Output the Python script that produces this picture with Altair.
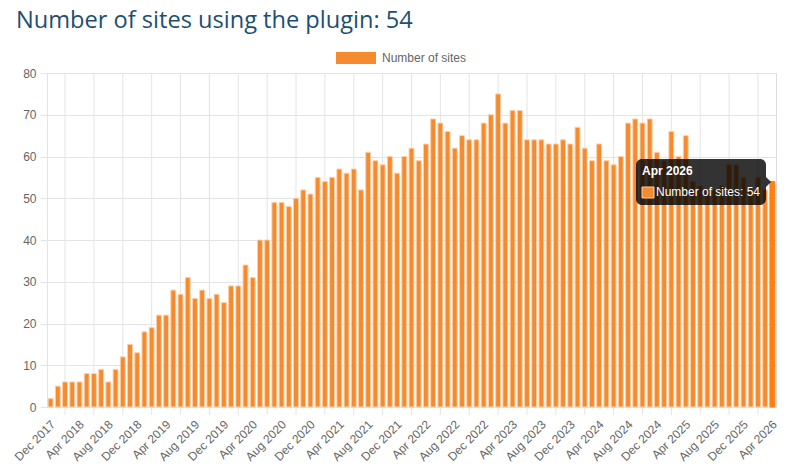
import json

import altair as alt
import pandas as pd

# Monthly labels, Dec 2017 .. Apr 2026
months = [p.strftime("%b %Y") for p in pd.period_range("2017-12", "2026-04", freq="M")]

# Active installs per month
sites = [
    2, 5, 6, 6, 6, 8, 8, 9, 6, 9, 12, 15, 13, 18, 19, 22, 22, 28, 27, 31,
    26, 28, 26, 27, 25, 29, 29, 34, 31, 40, 40,
    49, 49, 48, 50, 52, 51, 55, 54, 55, 57, 56, 57, 52, 61, 59, 58, 60, 56,
    60, 62, 59, 63, 69, 68, 66, 62, 65, 64, 64, 68, 70, 75, 68, 71, 71, 64,
    64, 64, 63, 63, 64, 63, 67, 62, 59, 63, 59, 58, 60, 68, 69, 68, 69, 61,
    59, 66, 60, 65,
    54, 53, 52, 52, 53, 58, 58, 55, 52, 55, 52, 54,
]

series_name = "Number of sites"
y_ticks = list(range(0, 81, 10))

n = len(months)
last = n - 1
label_idx = list(range(0, n, 4))        # labelled months
grid_idx = list(range(2, n - 1, 4))     # grid lines sit between labelled months

PLOT_W, PLOT_H = 729, 334
ORANGE = "#f68a2e"
HOVER = "#ff7f10"
EDGE = "#fbd0a8"
GRID = "#e4e4e4"
FONT = "Liberation Sans"

df = pd.DataFrame({"i": range(n), "month": months, "sites": sites, "series": series_name})

xscale = alt.Scale(domain=[-0.5, n - 0.5], nice=False, zero=False, padding=0)
yscale = alt.Scale(domain=[0, 80], nice=False, padding=0)

x_axis = alt.Axis(
    values=label_idx,
    labelExpr=json.dumps(months) + "[datum.value]",
    labelAngle=-45,
    labelAlign="right",
    labelBaseline="middle",
    labelPadding=15,
    labelOffset=2,
    labelOverlap=False,
    labelColor="#666666",
    labelFont=FONT,
    labelFontSize=12,
    grid=False,
    ticks=False,
    domainColor=GRID,
    title=None,
)

vgrid = alt.Chart(pd.DataFrame({"g": grid_idx})).mark_rule(
    color=GRID, strokeWidth=1
).encode(
    x=alt.X("g:Q", scale=xscale, axis=x_axis),
    y=alt.value(0),
    y2=alt.value(PLOT_H + 8),
)

is_last = alt.datum.i == last

bars = alt.Chart(df).transform_calculate(
    x0="datum.i - 0.34", x1="datum.i + 0.34"
).mark_bar(strokeWidth=1).encode(
    x=alt.X("x0:Q", scale=xscale, axis=x_axis),
    x2="x1:Q",
    y=alt.Y(
        "sites:Q",
        scale=yscale,
        axis=alt.Axis(
            values=y_ticks,
            grid=True,
            gridColor=GRID,
            tickColor=GRID,
            tickSize=7,
            domainColor=GRID,
            labelColor="#666666",
            labelFont=FONT,
            labelFontSize=12,
            labelPadding=4,
            title=None,
        ),
    ),
    y2=alt.datum(0),
    fill=alt.condition(
        is_last,
        alt.value(HOVER),
        alt.Fill(
            "series:N",
            scale=alt.Scale(domain=[series_name], range=[ORANGE]),
            legend=alt.Legend(
                title=None,
                orient="none",
                legendX=289,
                legendY=-35,
                symbolType="M-1,-0.3H1V0.3H-1Z",
                symbolSize=1600,
                symbolStrokeWidth=0,
                symbolOpacity=1,
                labelFont=FONT,
                labelFontSize=12,
                labelColor="#666666",
                labelOffset=6,
            ),
        ),
    ),
    stroke=alt.condition(is_last, alt.value(HOVER), alt.value(EDGE)),
)

# Hover tooltip for the latest month
tip_df = pd.DataFrame({
    "title": [months[last]],
    "body": [f"{series_name}: {sites[last]}"],
})
tip = alt.Chart(tip_df)
tip_box = tip.mark_rect(cornerRadius=6, color="black", opacity=0.8).encode(
    x=alt.value(589), x2=alt.value(719), y=alt.value(86), y2=alt.value(132)
)
tip_caret = tip.mark_point(
    shape="M0,-1L1,0L0,1Z", size=100, filled=True, color="black", opacity=0.8
).encode(x=alt.value(719), y=alt.value(109))
tip_title = tip.mark_text(
    align="left", baseline="alphabetic", font=FONT, fontSize=12,
    fontWeight="bold", color="white"
).encode(x=alt.value(595), y=alt.value(102), text="title:N")
tip_swatch = tip.mark_rect(color=ORANGE, stroke=EDGE, strokeWidth=1).encode(
    x=alt.value(595), x2=alt.value(607), y=alt.value(114), y2=alt.value(125)
)
tip_body = tip.mark_text(
    align="left", baseline="alphabetic", font=FONT, fontSize=12, color="white"
).encode(x=alt.value(609), y=alt.value(123), text="body:N")

chart = alt.layer(
    vgrid, bars, tip_box, tip_caret, tip_title, tip_swatch, tip_body
).properties(
    width=PLOT_W,
    height=PLOT_H,
    title=alt.TitleParams(
        f"Number of sites using the plugin: {sites[last]}",
        anchor="start",
        frame="group",
        font="Open Sans",
        fontSize=23.6,
        fontWeight="normal",
        color="#1c4f73",
        dx=-31,
        offset=5,
    ),
    autosize=alt.AutoSizeParams(type="none"),
    padding={"left": 47, "top": 73, "right": 15, "bottom": 65},
).configure_view(stroke=None).configure(background="white")

chart.save("out.html", embed_options={"renderer": "svg", "actions": False})
